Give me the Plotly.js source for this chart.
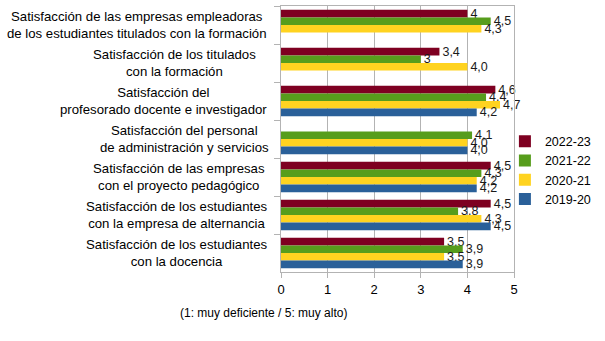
<!DOCTYPE html>
<html>
<head>
<meta charset="utf-8">
<script src="https://cdn.plot.ly/plotly-3.0.1.min.js"></script>
<style>html,body{margin:0;padding:0;background:#fff;}#chart{width:605px;height:341px;}</style>
</head>
<body>
<div id="chart"></div>
<script>
const categories = [
  "Satisfacción de las empresas empleadoras<br>de los estudiantes titulados con la formación",
  "Satisfacción de los titulados<br>con la formación",
  "Satisfacción del<br>profesorado docente e investigador",
  "Satisfacción del personal<br>de administración y servicios",
  "Satisfacción de las empresas<br>con el proyecto pedagógico",
  "Satisfacción de los estudiantes<br>con la empresa de alternancia",
  "Satisfacción de los estudiantes<br>con la docencia"
];
const seriesNames = ["2022-23", "2021-22", "2020-21", "2019-20"];
const values2223 = [4, 3.4, 4.6, null, 4.5, 4.5, 3.5];
const values2122 = [4.5, 3, 4.4, 4.1, 4.3, 3.8, 3.9];
const values2021 = [4.3, 4.0, 4.7, 4.0, 4.2, 4.3, 3.5];
const values1920 = [null, null, 4.2, 4.0, 4.2, 4.5, 3.9];
const labels2223 = ["4", "3,4", "4,6", "", "4,5", "4,5", "3,5"];
const labels2122 = ["4,5", "3", "4,4", "4,1", "4,3", "3,8", "3,9"];
const labels2021 = ["4,3", "4,0", "4,7", "4,0", "4,2", "4,3", "3,5"];
const labels1920 = ["", "", "4,2", "4,0", "4,2", "4,5", "3,9"];
const xTicks = [0, 1, 2, 3, 4, 5];
const footnote = "(1: muy deficiente / 5: muy alto)";

const colors = ["#7e0021", "#579d1c", "#ffd320", "#2a6099"];
const allValues = [values2223, values2122, values2021, values1920];
const allLabels = [labels2223, labels2122, labels2021, labels1920];
const ids = categories.map((c, i) => "c" + i);

const font = "Liberation Sans, Arial, sans-serif";
const traces = seriesNames.map((name, k) => ({
  type: "bar",
  orientation: "h",
  name: name,
  y: ids,
  x: allValues[k],
  text: allLabels[k],
  textposition: "outside",
  constraintext: "none",
  cliponaxis: false,
  textfont: {family: font, size: 12.5, color: "#1a1a1a"},
  marker: {color: colors[k], line: {width: 0}},
  hoverinfo: "none"
}));

const labelShift = [0, -11, 0, 2, -2, 0, 0];
const annotations = categories.map((c, i) => ({
  xref: "paper", yref: "y", x: 0, xshift: -12 + labelShift[i], y: ids[i],
  xanchor: "right", yanchor: "middle", align: "center",
  text: c, showarrow: false,
  font: {family: font, size: 13.2, color: "#000"}
}));
annotations.push({
  xref: "paper", yref: "paper", x: -0.075, y: -0.155,
  xanchor: "center", yanchor: "middle",
  text: footnote, showarrow: false,
  font: {family: font, size: 12, color: "#000"}
});

const layout = {
  width: 605, height: 341,
  margin: {l: 281, r: 91, t: 6, b: 69, autoexpand: false},
  paper_bgcolor: "#fff", plot_bgcolor: "#fff",
  barmode: "group", bargap: 0.2, bargroupgap: 0,
  font: {family: font, size: 12, color: "#000"},
  xaxis: {
    range: [0, 5], tickvals: xTicks, ticktext: xTicks.map(String),
    showgrid: true, gridcolor: "#b3b3b3", gridwidth: 1,
    showline: true, linecolor: "#b3b3b3", linewidth: 1, mirror: true,
    ticks: "outside", ticklen: 5, tickcolor: "#b3b3b3",
    zeroline: false, tickfont: {family: font, size: 13, color: "#000"}
  },
  yaxis: {
    type: "category", autorange: "reversed",
    showticklabels: false, tickson: "boundaries",
    ticks: "outside", ticklen: 6, tickcolor: "#b3b3b3",
    showline: true, linecolor: "#b3b3b3", linewidth: 1, mirror: true,
    showgrid: false, zeroline: false
  },
  legend: {
    x: 0.961, y: 0.383, xanchor: "left", yanchor: "middle",
    font: {family: font, size: 12.5, color: "#000"},
    itemwidth: 30, tracegroupgap: 0, traceorder: "normal",
    bgcolor: "rgba(0,0,0,0)"
  },
  annotations: annotations,
  showlegend: true
};

Plotly.newPlot("chart", traces, layout, {staticPlot: true, displayModeBar: false});
</script>
</body>
</html>
